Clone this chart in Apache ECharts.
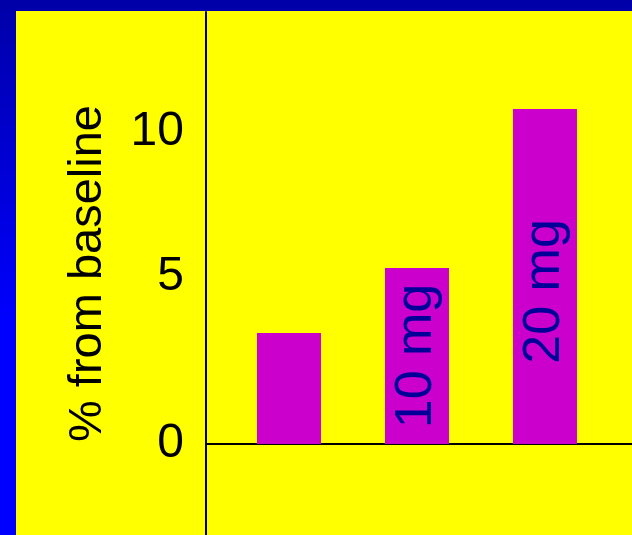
<!DOCTYPE html>
<html>
<head>
<meta charset="utf-8">
<script src="https://cdn.jsdelivr.net/npm/echarts@6/dist/echarts.min.js"></script>
<style>
  html, body {
    margin: 0;
    padding: 0;
    width: 632px;
    height: 535px;
    overflow: hidden;
    background: linear-gradient(to bottom, #0000a8 0%, #0000ff 60%, #0000ff 100%);
  }
  #main {
    position: absolute;
    left: 16px;
    top: 11px;
    width: 616px;
    height: 524px;
  }
</style>
</head>
<body>
<div id="main"></div>
<script>
// data
var doses = ['', '10 mg', '20 mg'];
var changeFromBaseline = [3.56, 5.64, 10.74];
var tickValues = [0, 5, 10];

var chart = echarts.init(document.getElementById('main'));

var barData = doses.map(function (d, i) {
  var item = { value: [i + 1, changeFromBaseline[i]] };
  item.label = { show: d !== '', formatter: d };
  // the 20 mg label sits a bit below the middle of its bar
  // (offset is in the rotated frame, so -x means down on screen)
  if (i === 2) item.label.offset = [-15, 0];
  return item;
});

var option = {
  backgroundColor: '#ffff00',
  animation: false,
  grid: { left: 190, right: 0, top: 1, bottom: 0 },
  xAxis: {
    type: 'value',
    min: 0.3516,
    max: 3.68,
    axisLine: { show: true, onZero: true, lineStyle: { color: '#000', width: 2 } },
    axisTick: { show: false },
    axisLabel: { show: false },
    splitLine: { show: false }
  },
  yAxis: {
    type: 'value',
    min: -2.917,
    max: 13.846,
    name: '% from baseline',
    nameLocation: 'middle',
    nameRotate: 90,
    nameGap: 94,
    nameTextStyle: { fontFamily: 'Liberation Sans', fontSize: 47, color: '#000' },
    axisLine: { show: true, lineStyle: { color: '#000', width: 2 } },
    axisTick: { show: false },
    splitLine: { show: false },
    axisLabel: {
      customValues: tickValues,
      margin: 22,
      fontFamily: 'Liberation Sans',
      fontSize: 48,
      color: '#000',
      formatter: function (v) {
        return v === 5 ? '{up|5}' : '{n|' + v + '}';
      },
      rich: {
        n: { fontFamily: 'Liberation Sans', fontSize: 48, color: '#000' },
        up: { fontFamily: 'Liberation Sans', fontSize: 48, color: '#000', padding: [0, 0, 22, 0] }
      }
    }
  },
  series: [
    {
      type: 'bar',
      barWidth: 64,
      itemStyle: { color: '#cc00cc' },
      label: {
        position: 'inside',
        rotate: 90,
        fontFamily: 'Liberation Sans',
        fontSize: 52,
        color: '#000099'
      },
      data: barData
    }
  ]
};

chart.setOption(option);
</script>
</body>
</html>
